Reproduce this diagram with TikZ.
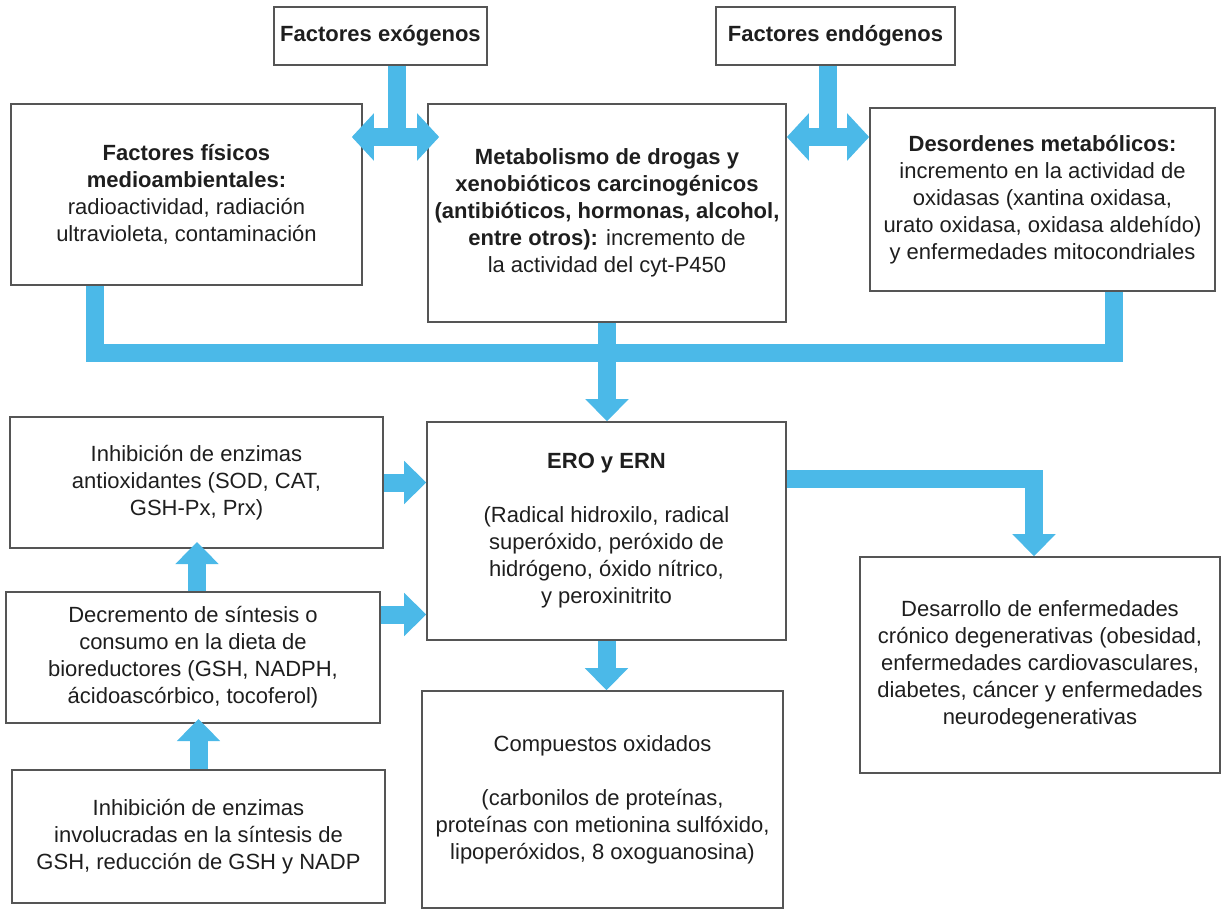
\documentclass[tikz,border=0pt]{standalone}
\usepackage{fontspec}
\setmainfont{Liberation Sans}
\usetikzlibrary{arrows.meta}
\definecolor{flowblue}{RGB}{75,185,232}
\definecolor{boxline}{RGB}{85,85,85}
\definecolor{txt}{RGB}{30,30,30}
\begin{document}
\begin{tikzpicture}[x=0.5pt, y=-0.5pt,
		box/.style={draw=boxline, line width=0.8pt, align=center, inner sep=0pt, text=txt,
			font=\fontsize{11}{13.5}\selectfont},
		flow/.style={draw=flowblue, line width=9pt, line join=miter},
		arr/.style={-{Triangle[width=21pt,length=11pt]}},
		darr/.style={{Triangle[width=23pt,length=11pt]}-{Triangle[width=23pt,length=11pt]}}]
		\useasboundingbox (0,0) rectangle (1222,910);
		
		% top row
		\node[box, minimum width=106.5pt, minimum height=29pt] (exo) at (380.5,36) {\textbf{Factores exógenos}};
		\node[box, minimum width=119.5pt, minimum height=29pt] (endo) at (835.5,36) {\textbf{Factores endógenos}};
		\node[box, minimum width=175.5pt, minimum height=90.5pt] (fis) at (186.5,194.5) {\textbf{Factores físicos}\\ \textbf{medioambientales:}\\ radioactividad, radiación\\ ultravioleta, contaminación};
		\node[box, minimum width=179pt, minimum height=109pt] (met) at (607,213) {\textbf{Metabolismo de drogas y}\\ \textbf{xenobióticos carcinogénicos}\\ \textbf{(antibióticos, hormonas, alcohol,}\\ \textbf{entre otros):} incremento de\\ la actividad del cyt-P450};
		\node[box, minimum width=172.5pt, minimum height=91.5pt] (des) at (1042.5,199.5) {\textbf{Desordenes metabólicos:}\\ incremento en la actividad de\\ oxidasas (xantina oxidasa,\\ urato oxidasa, oxidasa aldehído)\\ y enfermedades mitocondriales};
		
		% middle and bottom
		\node[box, minimum width=179.5pt, minimum height=109pt] (ero) at (606.5,531) {\textbf{ERO y ERN}\\[13.5pt] (Radical hidroxilo, radical\\ superóxido, peróxido de\\ hidrógeno, óxido nítrico,\\ y peroxinitrito};
		\node[box, minimum width=186.5pt, minimum height=65.5pt] (inh1) at (196.5,482.5) {Inhibición de enzimas\\ antioxidantes (SOD, CAT,\\ GSH-Px, Prx)};
		\node[box, minimum width=187pt, minimum height=65.5pt] (dec) at (193,657.5) {Decremento de síntesis o\\ consumo en la dieta de\\ bioreductores (GSH, NADPH,\\ ácidoascórbico, tocoferol)};
		\node[box, minimum width=186.5pt, minimum height=66.5pt] (inh2) at (198.5,836.5) {Inhibición de enzimas\\ involucradas en la síntesis de\\ GSH, reducción de GSH y NADP};
		\node[box, minimum width=180.5pt, minimum height=108.5pt] (comp) at (602.5,799.5) {Compuestos oxidados\\[13.5pt] (carbonilos de proteínas,\\ proteínas con metionina sulfóxido,\\ lipoperóxidos, 8 oxoguanosina)};
		\node[box, minimum width=180pt, minimum height=108pt] (des2) at (1040,665) {Desarrollo de enfermedades\\ crónico degenerativas (obesidad,\\ enfermedades cardiovasculares,\\ diabetes, cáncer y enfermedades\\ neurodegenerativas};
		
		% arrows
		\coordinate (exoj) at (397,137);
		\coordinate (endoj) at (828,137);
		\coordinate (bus) at (607,353);
		\coordinate (up1) at (197,542);
		\coordinate (up2) at (198.5,719);
		\draw[flow] (exo.south -| exoj) -- (exoj);
		\draw[flow, darr] ([xshift=-5.5pt]fis.east |- exoj) -- ([xshift=6pt]met.west |- exoj);
		\draw[flow] (endo.south -| endoj) -- (endoj);
		\draw[flow, darr] (met.east |- endoj) -- (des.west |- endoj);
		\draw[flow] ([xshift=-46pt]fis.south) |- ([xshift=35.75pt]des.south |- bus) -- ([xshift=35.75pt]des.south);
		\draw[flow, arr] (met.south) -- (met.south |- ero.north);
		\draw[flow, arr] ([yshift=26pt]ero.east) -| ([xshift=-3pt]des2.north);
		\draw[flow, arr] (inh1.east) -- (inh1.east -| ero.west);
		\draw[flow, arr] ([yshift=21.5pt]dec.east) -- ([yshift=21.5pt]dec.east -| ero.west);
		\draw[flow, arr] (dec.north -| up1) -- (up1);
		\draw[flow, arr] (inh2.north -| up2) -- (up2);
		\draw[flow, arr] (ero.south) -- (ero.south |- comp.north);
	\end{tikzpicture}
\end{document}
